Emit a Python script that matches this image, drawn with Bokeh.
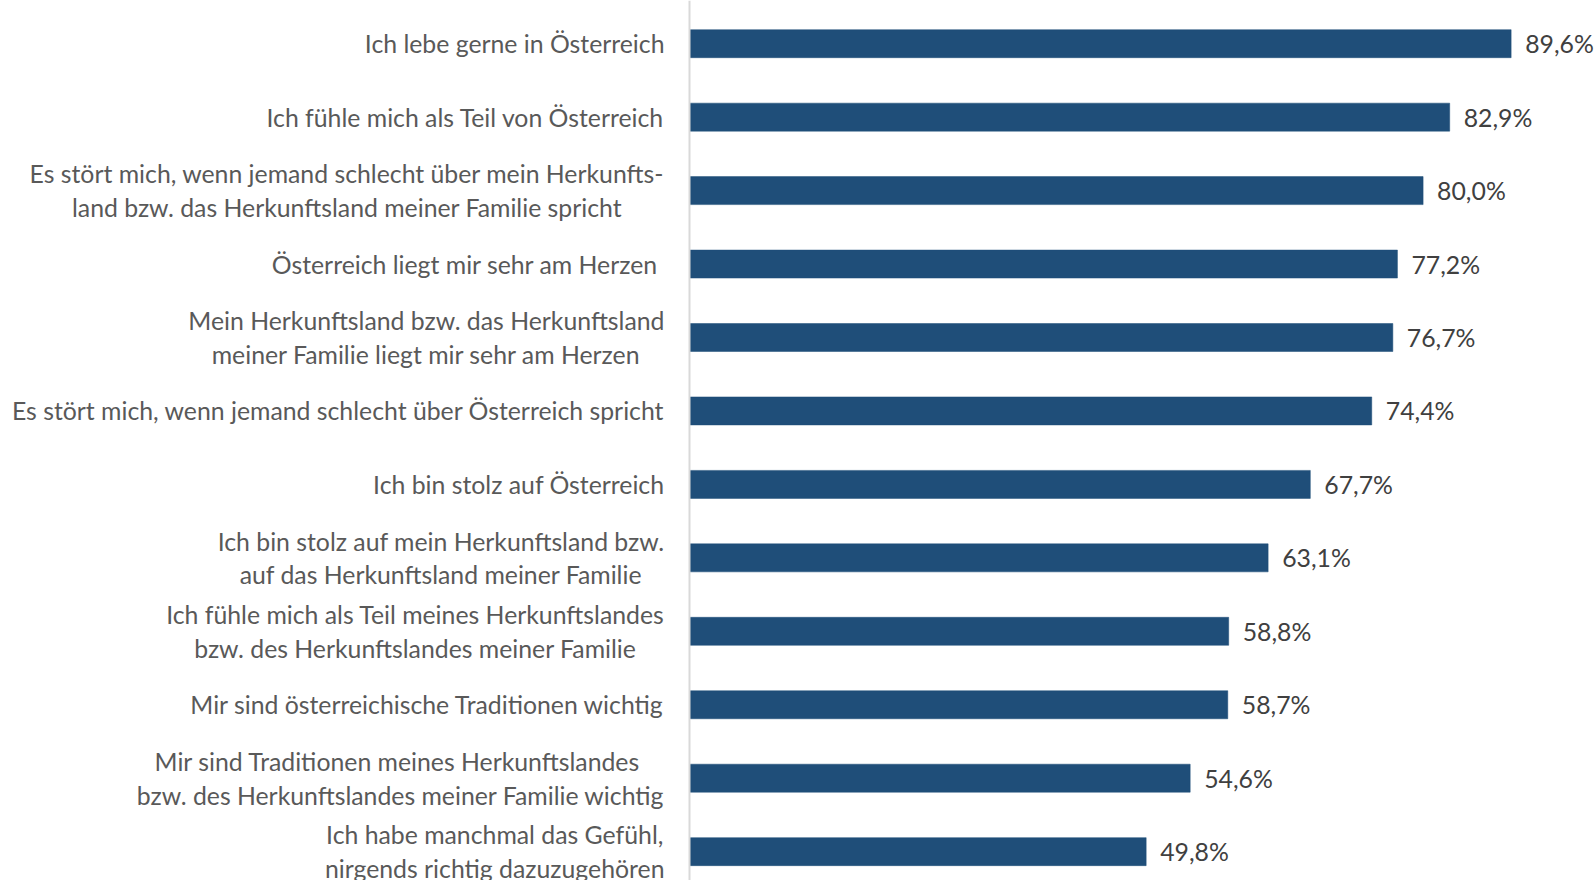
from bokeh.plotting import figure
from bokeh.models import ColumnDataSource, Range1d, Span
from bokeh.core.properties import value
from bokeh.embed import file_html
from bokeh.resources import INLINE

categories = [
    "Ich lebe gerne in Österreich",
    "Ich fühle mich als Teil von Österreich",
    "Es stört mich, wenn jemand schlecht über mein Herkunfts-\nland bzw. das Herkunftsland meiner Familie spricht",
    "Österreich liegt mir sehr am Herzen ",
    "Mein Herkunftsland bzw. das Herkunftsland\nmeiner Familie liegt mir sehr am Herzen",
    "Es stört mich, wenn jemand schlecht über Österreich spricht",
    "Ich bin stolz auf Österreich",
    "Ich bin stolz auf mein Herkunftsland bzw.\nauf das Herkunftsland meiner Familie",
    "Ich fühle mich als Teil meines Herkunftslandes\nbzw. des Herkunftslandes meiner Familie",
    "Mir sind österreichische Traditionen wichtig",
    "Mir sind Traditionen meines Herkunftslandes \nbzw. des Herkunftslandes meiner Familie wichtig",
    "Ich habe manchmal das Gefühl,\nnirgends richtig dazuzugehören",
]
values = [89.6, 82.9, 80.0, 77.2, 76.7, 74.4, 67.7, 63.1, 58.8, 58.7, 54.6, 49.8]
value_labels = ["89,6%", "82,9%", "80,0%", "77,2%", "76,7%", "74,4%", "67,7%",
                "63,1%", "58,8%", "58,7%", "54,6%", "49,8%"]

positions = list(range(len(categories)))

src = ColumnDataSource(dict(y=positions, v=values, cat=categories, lab=value_labels,
                            zero=[0] * len(values)))

W, H = 1596, 880
px_per_pct = 9.17
zero_px = 689
step = 73.45
first_px = 43.2

p = figure(width=W, height=H, output_backend="svg", toolbar_location=None,
           x_range=Range1d(-zero_px / px_per_pct, (W - zero_px) / px_per_pct),
           y_range=Range1d((H - first_px) / step, -first_px / step),
           min_border=0, outline_line_color=None)
p.xaxis.visible = False
p.yaxis.visible = False
p.grid.visible = False
p.background_fill_color = "white"
p.border_fill_color = "white"

p.add_layout(Span(location=0, dimension="height", line_color="#d9d9d9", line_width=2))

p.hbar(y="y", left="zero", right="v", height=28 / step, source=src,
       fill_color="#1F4E79", line_color="#1F4E79", line_width=0.5)

font = value("Lato")
p.text(x="v", y="y", text="lab", source=src, x_offset=14,
       text_align="left", text_baseline="middle", text_font=font,
       text_font_size="24.8px", text_color="#404040")

p.text(x="zero", y="y", text="cat", source=src, x_offset=-25,
       anchor=value("center_right"), text_align="center", text_baseline="middle",
       text_font=font, text_font_size="24.8px", text_color="#595959",
       text_line_height=1.16)

open("out.html", "w").write(file_html(p, INLINE))
